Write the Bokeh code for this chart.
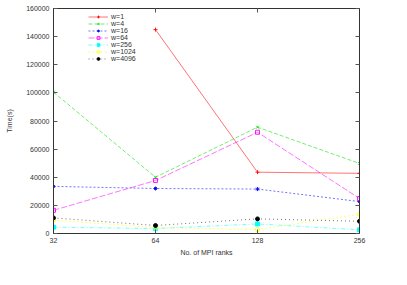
from bokeh.plotting import figure
from bokeh.models import Range1d, LinearAxis, LogAxis, FixedTicker, Legend, LegendItem, BasicTickFormatter
from bokeh.embed import file_html
from bokeh.resources import INLINE

ranks = [32, 64, 128, 256]
ranks_w1 = [64, 128, 256]
w1 = [145000, 43600, 42800]
w4 = [100500, 40000, 75600, 49800]
w16 = [33500, 32000, 31600, 22700]
w64 = [16500, 37700, 72000, 24900]
w256 = [4500, 3500, 6800, 2600]
w1024 = [9500, 4200, 2800, 13700]
w4096 = [11100, 5700, 10400, 8700]
y_ticks = [0, 20000, 40000, 60000, 80000, 100000, 120000, 140000, 160000]

FONT = "Liberation Sans"
p = figure(width=391, height=269, output_backend="svg", toolbar_location=None,
           x_axis_type="log", x_range=Range1d(32, 256), y_range=Range1d(0, 160000),
           min_border_left=53, min_border_right=32, min_border_top=8, min_border_bottom=36)
p.xaxis.axis_label = "No. of MPI ranks"
p.yaxis.axis_label = "Time(s)"
p.grid.visible = False
p.outline_line_color = "#333333"
p.outline_line_width = 1

def style(ax):
    ax.major_tick_in = 4
    ax.major_tick_out = 0
    ax.minor_tick_in = 0
    ax.minor_tick_out = 0
    ax.axis_line_color = "#333333"
    ax.major_tick_line_color = "#555555"
    ax.major_label_text_font = FONT
    ax.major_label_text_font_size = "7px"
    ax.major_label_text_color = "#333333"
    ax.axis_label_text_font = FONT
    ax.axis_label_text_font_size = "7px"
    ax.axis_label_text_font_style = "normal"
    ax.axis_label_text_color = "#333333"

xt = FixedTicker(ticks=ranks, minor_ticks=[])
yt = FixedTicker(ticks=y_ticks, minor_ticks=[])
p.xaxis.ticker = xt
p.yaxis.ticker = yt
p.yaxis.formatter = BasicTickFormatter(use_scientific=False)
style(p.xaxis[0]); style(p.yaxis[0])
p.xaxis.major_label_standoff = 4
p.xaxis.axis_label_standoff = 3
p.yaxis.major_label_standoff = 4
p.yaxis.axis_label_standoff = 10

top = LogAxis(ticker=xt, major_label_overrides={t: "" for t in ranks}, major_label_standoff=0)
style(top)
p.add_layout(top, "above")
right = LinearAxis(ticker=yt, major_label_overrides={t: "" for t in y_ticks}, major_label_standoff=0)
style(right)
p.add_layout(right, "right")

series = [
    ("w=1", ranks_w1, w1, "#ff0000", "solid", "cross", False),
    ("w=4", ranks, w4, "#00dd00", "4 2", "x", False),
    ("w=16", ranks, w16, "#0000ff", "2 2", "asterisk", True),
    ("w=64", ranks, w64, "#ff00ff", "6 2", "square", False),
    ("w=256", ranks, w256, "#00ffff", "4 2 1 2", "square", True),
    ("w=1024", ranks, w1024, "#ffff00", "2 2", "circle", False),
    ("w=4096", ranks, w4096, "#000000", "1 3", "circle", True),
]
items = []
for name, xs, ys, col, dash, marker, filled in series:
    r1 = p.line(xs, ys, line_color=col, line_width=1, line_dash=dash, line_alpha=0.55)
    r2 = p.scatter(xs, ys, marker=marker, size=4, line_color=col, line_width=1,
                   fill_color=col if filled else None, line_alpha=0.9)
    items.append(LegendItem(label=name, renderers=[r1, r2]))

leg = Legend(items=items, location=(33, 169), label_text_font=FONT,
             label_text_font_size="7px", label_text_color="#333333",
             glyph_width=20, glyph_height=7, label_height=7, spacing=0,
             padding=2, margin=0, background_fill_alpha=0, border_line_alpha=0,
             label_standoff=3)
p.add_layout(leg)

open("out.html", "w").write(file_html(p, INLINE))
